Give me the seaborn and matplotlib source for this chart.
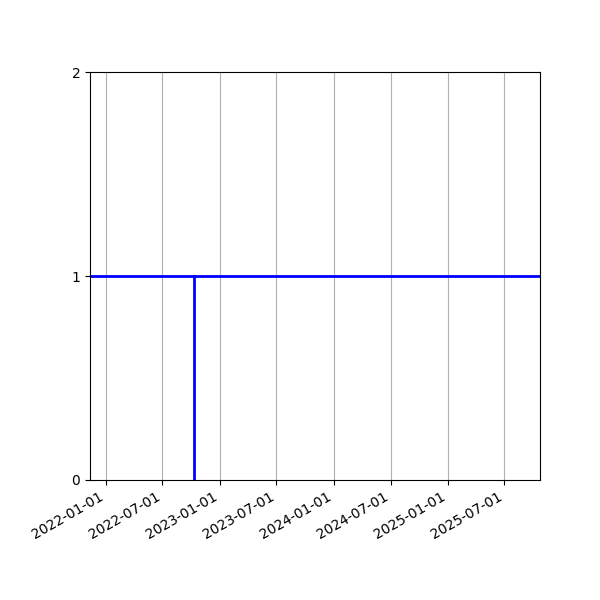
import pandas as pd
import matplotlib
matplotlib.use('Agg')
import matplotlib.pyplot as plt
import matplotlib.dates as mdates
import seaborn as sns

# Dados
event_dates = pd.to_datetime(['2022-10-10', '2022-10-10'])
event_values = [0, 1]
level = 1
x_range = pd.to_datetime(['2021-11-11', '2025-10-23'])
y_ticks = [0, 1, 2]

df = pd.DataFrame({'date': event_dates, 'value': event_values})

fig, ax = plt.subplots(figsize=(6, 6), dpi=100)

sns.lineplot(data=df, x='date', y='value', estimator=None, sort=False,
             color='blue', linewidth=2, ax=ax)
ax.axhline(level, color='blue', linewidth=2)

ax.set_xlim(x_range[0], x_range[1])
ax.set_ylim(y_ticks[0], y_ticks[-1])
ax.set_yticks(y_ticks)
ax.xaxis.set_major_locator(mdates.MonthLocator(bymonth=[1, 7]))
ax.xaxis.set_major_formatter(mdates.DateFormatter('%Y-%m-%d'))
ax.grid(axis='x', color='#b0b0b0')
ax.set_xlabel('')
ax.set_ylabel('')

fig.autofmt_xdate()
plt.subplots_adjust(left=0.15, right=0.9, top=0.88, bottom=0.2)
plt.savefig('out.png', dpi=100)
